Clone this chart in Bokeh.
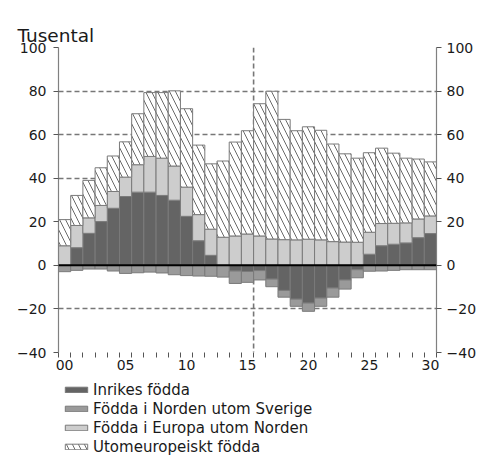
import numpy as np
from bokeh.plotting import figure
from bokeh.layouts import column
from bokeh.models import (ColumnDataSource, Range1d, FixedTicker, LinearAxis,
                          Span, Legend, LegendItem, Title)
from bokeh.embed import file_html
from bokeh.resources import INLINE

# ---- data (thousands) ----
years = ["00", "01", "02", "03", "04", "05", "06", "07", "08", "09", "10",
         "11", "12", "13", "14", "15", "16", "17", "18", "19", "20",
         "21", "22", "23", "24", "25", "26", "27", "28", "29", "30"]
tick_years = ["00", "05", "10", "15", "20", "25", "30"]

inrikes = [0.0, 8.1, 14.7, 20.1, 26.2, 31.6, 33.6, 33.6, 32.1, 29.9, 22.5,
           11.3, 4.6, 0.0, -2.6, -2.8, -2.4, -6.3, -11.5, -15.5, -17.3,
           -15.0, -10.4, -6.7, -2.0, 5.1, 9.0, 9.7, 10.3, 12.7, 14.6]
norden = [-2.9, -2.3, -1.7, -1.7, -2.6, -3.7, -3.4, -3.1, -3.5, -4.3, -4.7,
          -4.9, -5.0, -5.4, -5.7, -5.0, -4.3, -3.5, -3.1, -3.3, -3.8,
          -3.8, -4.2, -4.2, -3.7, -2.7, -2.6, -2.3, -2.0, -2.0, -2.0]
europa = [9.0, 10.2, 7.1, 7.4, 7.7, 8.9, 12.6, 16.4, 17.1, 15.7, 13.4,
          12.0, 12.0, 12.9, 13.5, 14.4, 13.5, 12.1, 11.8, 11.7, 12.0,
          11.7, 10.9, 10.7, 10.6, 10.1, 10.2, 9.6, 9.2, 8.6, 8.1]
utom = [12.0, 13.8, 17.2, 17.3, 16.3, 16.2, 23.4, 29.3, 30.1, 34.5, 36.0,
        31.9, 30.0, 35.0, 43.1, 47.4, 60.7, 67.8, 55.2, 50.1, 51.6,
        50.3, 44.8, 40.5, 38.6, 36.5, 34.6, 32.2, 29.7, 27.5, 24.8]
y_ticks = [-40, -20, 0, 20, 40, 60, 80, 100]
forecast_start = 15.5
labels = ["Inrikes födda", "Födda i Norden utom Sverige",
          "Födda i Europa utom Norden", "Utomeuropeiskt födda"]

# ---- stacking ----
x = np.arange(len(years))
inr = np.array(inrikes)
inr_pos = np.clip(inr, 0, None)
inr_neg = np.clip(inr, None, 0)
eur_top = inr_pos + np.array(europa)
utom_top = eur_top + np.array(utom)
nor_bot = inr_neg + np.array(norden)

src = ColumnDataSource(dict(x=x, zero=np.zeros(len(x)), inr_pos=inr_pos,
                            inr_neg=inr_neg, eur_top=eur_top,
                            utom_top=utom_top, nor_bot=nor_bot))

DARK, MED, LIGHT, OUT = "#646464", "#9a9a9a", "#cdcdcd", "#7a7a7a"
GRID = "#777777"
FONT = "DejaVu Sans"
TXT = "#1a1a1a"
HATCH = dict(hatch_pattern="left_diagonal_line", hatch_scale=12,
             hatch_color="#6a6a6a", hatch_weight=1)

p = figure(width=486, height=380,
           min_border_left=58, min_border_right=50,
           min_border_top=47, min_border_bottom=28,
           x_range=Range1d(-0.5, 30.5), y_range=Range1d(-40, 100),
           output_backend="svg", toolbar_location=None)
p.outline_line_color = None
p.background_fill_color = "white"

# the built-in title (innermost) acts as an empty spacer
p.title.text = ""
p.title.text_font_size = "1px"
p.title.standoff = 18
# the visible title, placed further out
p.add_layout(Title(text="Tusental", text_font=FONT, text_font_size="18.5px",
                   text_font_style="normal", text_color=TXT, align="left",
                   vertical_align="top", offset=-41, standoff=0), "above")

# grid
p.xgrid.visible = False
p.ygrid.ticker = FixedTicker(ticks=[t for t in y_ticks if t != 0])
p.ygrid.grid_line_color = GRID
p.ygrid.grid_line_dash = "5 3"
p.ygrid.grid_line_width = 1.6

vline = Span(location=forecast_start, dimension="height", line_color=GRID,
             line_dash="5 3", line_width=1.6, level="underlay")
p.add_layout(vline)

kw = dict(x="x", width=1.0, source=src, line_color=OUT, line_width=1)
p.vbar(bottom="zero", top="inr_pos", fill_color=DARK, **kw)
p.vbar(bottom="inr_neg", top="zero", fill_color=DARK, **kw)
p.vbar(bottom="nor_bot", top="inr_neg", fill_color=MED, **kw)
p.vbar(bottom="inr_pos", top="eur_top", fill_color=LIGHT, **kw)
p.vbar(bottom="eur_top", top="utom_top", fill_color="white", **HATCH, **kw)

zero = Span(location=0, dimension="width", line_color="black", line_width=2)
p.add_layout(zero)

# axes
p.yaxis.ticker = FixedTicker(ticks=y_ticks)
right = LinearAxis(ticker=FixedTicker(ticks=y_ticks))
p.add_layout(right, "right")
for ax, so in [(p.yaxis[0], 7), (right, 5)]:
    ax.axis_line_color = "#808080"
    ax.axis_line_width = 1.2
    ax.major_tick_line_color = "#555555"
    ax.major_tick_out = 5
    ax.major_tick_in = 0
    ax.minor_tick_out = 0
    ax.minor_tick_in = 0
    ax.major_label_text_font = FONT
    ax.major_label_text_font_size = "14px"
    ax.major_label_text_color = TXT
    ax.major_label_standoff = so

xa = p.xaxis[0]
tick_pos = [years.index(t) for t in tick_years]
xa.ticker = FixedTicker(ticks=tick_pos,
                        minor_ticks=[i - 0.5 for i in range(len(years) + 1)])
xa.major_label_overrides = {i: years[i] for i in tick_pos}
xa.axis_line_color = None
xa.major_tick_out = 0
xa.major_tick_in = 0
xa.minor_tick_out = 5
xa.minor_tick_in = 0
xa.minor_tick_line_color = "#555555"
xa.major_label_text_font = FONT
xa.major_label_text_font_size = "14px"
xa.major_label_text_color = TXT
xa.major_label_standoff = 2

# ---- legend figure ----
q = figure(width=486, height=76, min_border=0,
           x_range=Range1d(0, 1), y_range=Range1d(0, 1),
           output_backend="svg", toolbar_location=None)
q.axis.visible = False
q.grid.visible = False
q.outline_line_color = None
dummy = ColumnDataSource(dict(x=[-10], top=[0]))
lk = dict(x="x", top="top", width=0.1, source=dummy, line_color=OUT,
          line_width=1)
rl = [q.vbar(fill_color=DARK, **lk),
      q.vbar(fill_color=MED, **lk),
      q.vbar(fill_color=LIGHT, **lk),
      q.vbar(fill_color="white", **HATCH, **lk)]
legend = Legend(items=[LegendItem(label=l, renderers=[r])
                       for l, r in zip(labels, rl)], location=(4, 0))
legend.padding = 0
legend.margin = 0
legend.spacing = 0
legend.border_line_alpha = 0
legend.background_fill_alpha = 0
legend.glyph_width = 28
legend.glyph_height = 7
legend.label_height = 19
legend.label_standoff = 3
legend.label_text_font = FONT
legend.label_text_font_size = "15px"
legend.label_text_color = TXT
q.add_layout(legend)

open("out.html", "w").write(file_html(column(p, q, spacing=0), INLINE))
